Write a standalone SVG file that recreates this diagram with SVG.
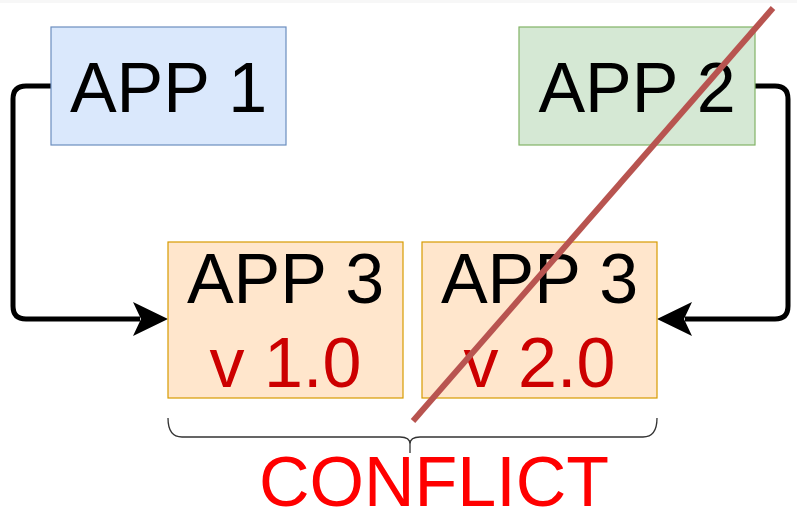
<svg xmlns="http://www.w3.org/2000/svg" width="797" height="511" viewBox="0 0 797 511">
<style>
text{font-family:"Liberation Sans",Arial,sans-serif;font-size:70px;text-anchor:middle}
.lbl{fill:#000}
.ver{fill:#CC0000}
.box3{fill:#ffe6cc;stroke:#d79b00;stroke-width:1.2}
.conn{fill:none;stroke:#000;stroke-width:5;stroke-linejoin:round}
.head{fill:#000}
</style>
<rect width="797" height="511" fill="#fff"/>
<rect width="797" height="3" fill="#f7f7f7"/>
<g id="connectors">
<path class="conn" d="M51,86 L26,86 Q13,86 13,99 L13,306 Q13,319 26,319 L140,319"/>
<path class="head" d="M168,319 L133,302 L141,319 L133,336 Z"/>
<path class="conn" d="M755,86 L775,86 Q788,86 788,99 L788,306 Q788,319 775,319 L685,319"/>
<path class="head" d="M657,319 L692,302 L684,319 L692,336 Z"/>
</g>
<g id="app1">
<rect x="51" y="27" width="235" height="118" fill="#dae8fc" stroke="#6c8ebf" stroke-width="1.2"/>
<text class="lbl" x="168.5" y="112">APP 1</text>
</g>
<g id="app2">
<rect x="519" y="27" width="236" height="118" fill="#d5e8d4" stroke="#82b366" stroke-width="1.2"/>
<text class="lbl" x="637" y="112">APP 2</text>
</g>
<g id="app3v1">
<rect class="box3" x="168" y="242" width="235" height="156"/>
<text class="lbl" x="285.5" y="303">APP 3</text>
<text class="ver" x="285.5" y="387">v 1.0</text>
</g>
<g id="app3v2">
<rect class="box3" x="422" y="242" width="235" height="156"/>
<text class="lbl" x="539.5" y="303">APP 3</text>
<text class="ver" x="539.5" y="387">v 2.0</text>
</g>
<g id="strike">
<line x1="773" y1="8" x2="413" y2="421" stroke="#b85450" stroke-width="6"/>
</g>
<g id="brace">
<path d="M168,418 Q168,437 182,437 L400,437 Q410,437 410,444 L410,453 M410,444 Q410,437 420,437 L643,437 Q657,437 657,418" fill="none" stroke="#333" stroke-width="1.3"/>
</g>
<g id="conflict">
<text x="434" y="506" fill="#FF0000" font-size="70">CONFLICT</text>
</g>
</svg>
